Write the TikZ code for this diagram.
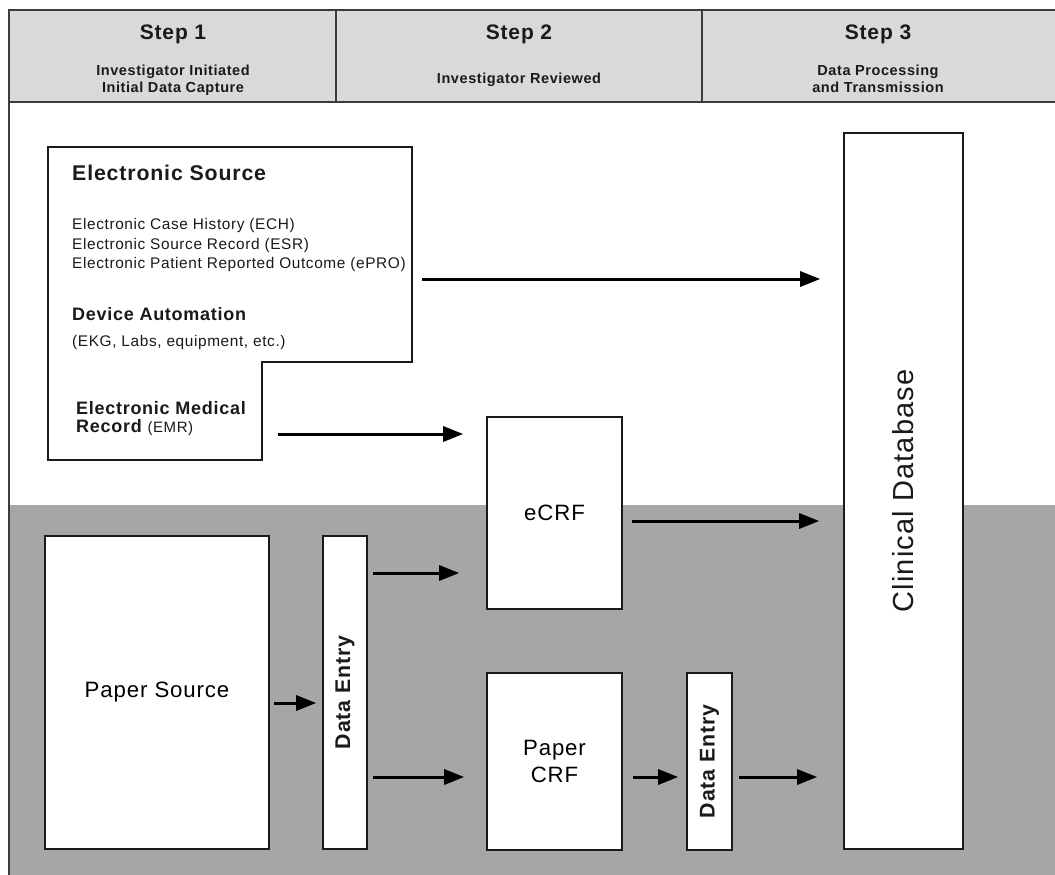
\documentclass[tikz,border=0pt]{standalone}
\usepackage{fontspec}
\setmainfont{Liberation Sans}[LetterSpace=4.0]
\usetikzlibrary{arrows.meta}

\definecolor{framegray}{HTML}{3C3C3C}
\definecolor{headfill}{HTML}{D9D9D9}
\definecolor{bandgray}{HTML}{A6A6A6}
\definecolor{ink}{HTML}{1A1A1A}

\begin{document}
\begin{tikzpicture}[x=1pt,y=-1pt,
  box/.style={draw=ink, line width=1.6pt, fill=white, inner sep=0pt},
  ghost/.style={inner sep=0pt, outer sep=0pt},
  flow/.style={draw=black, line width=3pt, -{Triangle[length=20pt,width=15pt]}},
  framel/.style={draw=framegray, line width=2pt},
  txt/.style={inner sep=0pt, text=ink},
  stepfont/.style={font=\bfseries\fontsize{21}{24}\selectfont},
  subfont/.style={font=\bfseries\fontsize{14.5}{18}\selectfont},
  headfont/.style={font=\bfseries\fontsize{21.3}{24}\selectfont},
  itemfont/.style={font=\fontsize{15.4}{19}\selectfont},
  midfont/.style={font=\bfseries\fontsize{18}{21}\selectfont},
  labelfont/.style={font=\fontsize{22.2}{27}\selectfont},
  entryfont/.style={font=\bfseries\fontsize{21.3}{25}\selectfont},
  dbfont/.style={font=\fontsize{29}{34}\selectfont}]

\useasboundingbox (0,0) rectangle (1055,875);
\fill[white] (0,0) rectangle (1055,875);

% shaded paper band and the header strip
\fill[bandgray] (9,505) rectangle (1055,875);
\fill[headfill] (9,10) rectangle (1055,102);
\draw[framel] (1055,10) -- (9,10) -- (9,875);
\draw[framel] (9,102) -- (1055,102);
\draw[framel] (336,10) -- (336,102) (702,10) -- (702,102);

% header texts
\node[txt, stepfont, anchor=base] (h1) at (173,39.5) {Step 1};
\node[txt, subfont, anchor=base] (h1a) at (173,75) {Investigator Initiated};
\node[txt, subfont, anchor=base] (h1b) at (173,92.5) {Initial Data Capture};
\node[txt, stepfont, anchor=base] (h2) at (519,39.5) {Step 2};
\node[txt, subfont, anchor=base] (h2a) at (519,83.5) {Investigator Reviewed};
\node[txt, stepfont, anchor=base] (h3) at (878,39.5) {Step 3};
\node[txt, subfont, anchor=base] (h3a) at (878,75) {Data Processing};
\node[txt, subfont, anchor=base] (h3b) at (878,92.5) {and Transmission};

% electronic source: an L-shaped outline made of two parts
\node[ghost, minimum width=364pt, minimum height=215pt] (es) at (230,254.5) {};
\node[ghost, minimum width=214pt, minimum height=98pt] (emr) at (155,411) {};
\draw[ink, line width=1.6pt, fill=white, line join=miter]
  (es.north west) -- (es.north east) -- (es.south east)
  -- (emr.north east) -- (emr.south east) -- (emr.south west) -- cycle;

\node[txt, headfont, anchor=base west] (estitle) at (72,180.5) {Electronic Source};
\node[txt, itemfont, anchor=base west] (ech) at (72,229.5) {Electronic Case History (ECH)};
\node[txt, itemfont, anchor=base west] (esr) at (72,249) {Electronic Source Record (ESR)};
\node[txt, itemfont, anchor=base west] (epro) at (72,268.5) {Electronic Patient Reported Outcome (ePRO)};
\node[txt, midfont, anchor=base west] (dev) at (72,320) {Device Automation};
\node[txt, itemfont, anchor=base west] (ekg) at (72,346.5) {(EKG, Labs, equipment, etc.)};
\node[txt, midfont, anchor=base west] (emr1) at (76,414) {Electronic Medical};
\node[txt, midfont, anchor=base west] (emr2) at (76,432)
  {Record {\mdseries\fontsize{15}{18}\selectfont (EMR)}};

% processing boxes
\node[box, minimum width=119pt, minimum height=716pt] (cdb) at (903.5,491) {};
\node[txt, dbfont, rotate=90] (cdblbl) at (cdb.center) {Clinical Database};

\node[box, labelfont, minimum width=135pt, minimum height=192pt] (ecrf) at (554.5,513) {eCRF};
\node[box, labelfont, align=center, minimum width=135pt, minimum height=177pt] (pcrf) at (554.5,761.5) {Paper\\CRF};
\node[box, labelfont, minimum width=224pt, minimum height=313pt] (ps) at (157,692.5) {Paper Source};

\node[box, minimum width=44pt, minimum height=313pt] (de1) at (345,692.5) {};
\node[txt, entryfont, rotate=90] (de1lbl) at (de1.center) {Data Entry};
\node[box, minimum width=45pt, minimum height=177pt] (de2) at (709.5,761.5) {};
\node[txt, entryfont, rotate=90] (de2lbl) at (de2.center) {Data Entry};

% data flow
\draw[flow, shorten <=10pt, shorten >=23pt] (es.east |- 0,279) -- (cdb.west |- 0,279);
\draw[flow, shorten <=16pt, shorten >=23pt] (emr.east |- 0,434) -- (ecrf.west |- 0,434);
\draw[flow, shorten <=9pt, shorten >=24pt] (ecrf.east |- 0,521) -- (cdb.west |- 0,521);
\draw[flow, shorten <=4pt, shorten >=6pt] (ps.east |- 0,703) -- (de1.west |- 0,703);
\draw[flow, shorten <=5pt, shorten >=27pt] (de1.east |- 0,573) -- (ecrf.west |- 0,573);
\draw[flow, shorten <=5pt, shorten >=22pt] (de1.east |- 0,777) -- (pcrf.west |- 0,777);
\draw[flow, shorten <=10pt, shorten >=8pt] (pcrf.east |- 0,777) -- (de2.west |- 0,777);
\draw[flow, shorten <=6pt, shorten >=26pt] (de2.east |- 0,777) -- (cdb.west |- 0,777);

\end{tikzpicture}
\end{document}
